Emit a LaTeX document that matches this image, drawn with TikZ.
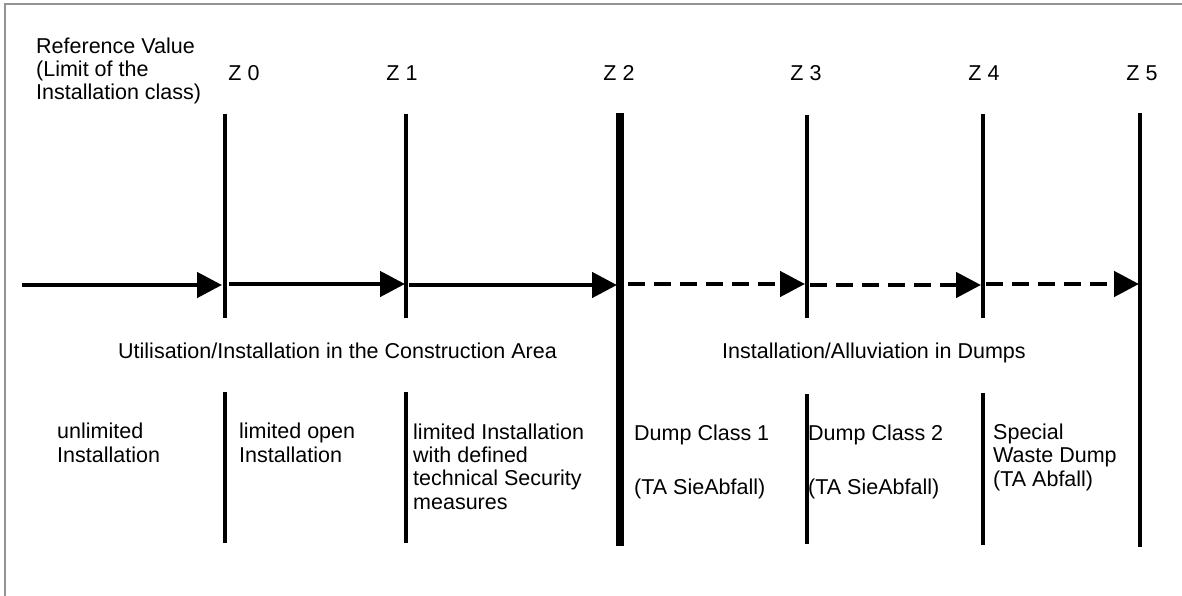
\documentclass[tikz,border=0pt]{standalone}
\usepackage{fontspec}
\setmainfont{Liberation Sans}
\usetikzlibrary{arrows.meta}
\begin{document}
\begin{tikzpicture}[x=1pt,y=-1pt,
  every node/.style={inner sep=0pt, font=\fontsize{21.5}{23.3}\selectfont},
  zline/.style={line width=4.6pt},
  zlbl/.style={anchor=base},
  txt/.style={anchor=base west, align=left},
  solidarrow/.style={line width=4.6pt, -{Triangle[length=25pt,width=25pt]}},
  dasharrow/.style={line width=4.6pt, dash pattern=on 17pt off 9pt, -{Triangle[length=25pt,width=25pt]}}]
\useasboundingbox (0,0) rectangle (1182,596);
\draw[gray!85, line width=2pt] (5,596) -- (5,4) -- (1182,4);
% vertical limit lines (broken behind the area labels)
\coordinate (z0t) at (225,114); \coordinate (z0m) at (225,318);
\coordinate (z0n) at (225,392); \coordinate (z0b) at (225,543);
\coordinate (z1t) at (406,114); \coordinate (z1m) at (406,318);
\coordinate (z1n) at (406,392); \coordinate (z1b) at (406,543);
\coordinate (z2t) at (620,113); \coordinate (z2b) at (620,546);
\coordinate (z3t) at (807,115); \coordinate (z3m) at (807,318);
\coordinate (z3n) at (807,394); \coordinate (z3b) at (807,544);
\coordinate (z4t) at (983,114); \coordinate (z4m) at (983,318);
\coordinate (z4n) at (983,393); \coordinate (z4b) at (983,545);
\coordinate (z5t) at (1140,113); \coordinate (z5b) at (1140,547);
\draw[zline] (z0t) -- (z0m) (z0n) -- (z0b);
\draw[zline] (z1t) -- (z1m) (z1n) -- (z1b);
\draw[line width=8.5pt] (z2t) -- (z2b);
\draw[zline] (z3t) -- (z3m) (z3n) -- (z3b);
\draw[zline] (z4t) -- (z4m) (z4n) -- (z4b);
\draw[line width=3.6pt] (z5t) -- (z5b);
% labels
\node[txt] (ref) at (36,100) {Reference Value\\(Limit of the\\Installation class)};
\node[zlbl] (lz0) at (244,81) {Z 0};
\node[zlbl] (lz1) at (402,81) {Z 1};
\node[zlbl] (lz2) at (619,81) {Z 2};
\node[zlbl] (lz3) at (806,81) {Z 3};
\node[zlbl] (lz4) at (984,81) {Z 4};
\node[zlbl] (lz5) at (1142,81) {Z 5};
% arrows
\coordinate (a0) at (22,285);
\coordinate (a1) at (222,285);
\coordinate (a1s) at (229,284);
\coordinate (a2) at (405,284);
\coordinate (a2s) at (409,285);
\coordinate (a3) at (617,285);
\coordinate (d1s) at (628,284);
\coordinate (d1e) at (805,284);
\coordinate (d2s) at (810,285);
\coordinate (d2e) at (981,285);
\coordinate (d3s) at (986,284);
\coordinate (d3e) at (1139,284);
\draw[solidarrow] (a0) -- (a1);
\draw[solidarrow] (a1s) -- (a2);
\draw[solidarrow] (a2s) -- (a3);
\draw[dasharrow] (d1s) -- (d1e);
\draw[dasharrow] (d2s) -- (d2e);
\draw[dasharrow] (d3s) -- (d3e);
% area labels
\node[anchor=base west] (area1) at (118,358) {Utilisation/Installation in the Construction Area};
\node[anchor=base west] (area2) at (722,358) {Installation/Alluviation in Dumps};
% class texts
\node[txt] (c0) at (57,462) {unlimited\\Installation};
\node[txt] (c1) at (239,462) {limited open\\Installation};
\node[txt] (c2) at (413,509) {limited Installation\\with defined\\technical Security\\measures};
\node[txt] (c3) at (634,494) {Dump Class 1\\[30.5pt](TA SieAbfall)};
\node[txt] (c4) at (808,494) {Dump Class 2\\[30.5pt](TA SieAbfall)};
\node[txt] (c5) at (993,486) {Special\\Waste Dump\\(TA Abfall)};
\end{tikzpicture}
\end{document}
